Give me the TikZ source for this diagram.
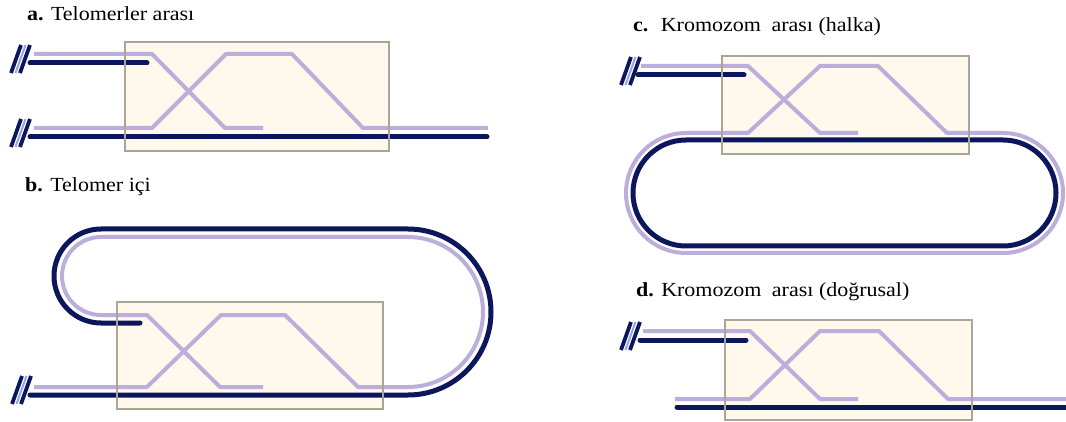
\documentclass[tikz,border=0pt]{standalone}
\usepackage{fontspec}
\setmainfont[FakeStretch=1.1]{Liberation Serif}
\definecolor{navy}{RGB}{12,22,92}
\definecolor{lav}{RGB}{188,174,218}
\definecolor{boxfill}{RGB}{254,249,236}
\definecolor{boxline}{RGB}{170,165,152}
\definecolor{brklight}{RGB}{150,165,230}
\tikzset{
  navyline/.style={draw=navy, line width=5pt, line cap=round, line join=round},
  lavline/.style={draw=lav, line width=4pt, line join=round},
  sitebox/.style={fill=boxfill, draw=none},
  siteframe/.style={draw=boxline, line width=1.2pt},
  lbl/.style={anchor=base west, inner sep=0pt, font=\fontsize{20}{24}\selectfont},
  brk/.pic={
    \draw[brklight, line width=2pt] (4.5,0) -- (14.5,-28);
    \draw[navy, line width=3.8pt] (0,0) -- (10,-28);
    \draw[navy, line width=3.8pt] (9,0) -- (19,-28);
  }
}
\begin{document}
\begin{tikzpicture}[x=1pt,y=-1pt]
\useasboundingbox (0,0) rectangle (1066,422);

% ---------- labels ----------
\node[lbl] (la) at (27,21) {\textbf{a.} Telomerler arası};
\node[lbl] (lb) at (25,192) {\textbf{b.} Telomer içi};
\node[lbl] (lc) at (633,32) {\textbf{c.}\hspace{0.25em} Kromozom\hspace{0.25em} arası (halka)};
\node[lbl] (ld) at (636,297) {\textbf{d.} Kromozom\hspace{0.25em} arası (doğrusal)};

% ---------- panel a ----------
\fill[sitebox] (125,42) rectangle (389,151);
\draw[lavline] (34,54) -- (152,54) -- (225,128) -- (263,128);
\draw[navyline] (30,63) -- (147,63);
\draw[lavline] (34,128) -- (152,128) -- (226,54) -- (292,54) -- (363,128) -- (488,128);
\draw[navyline] (30,137) -- (487,137);
\draw[siteframe] (125,42) rectangle (389,151);
\pic at (11,73) {brk};
\pic at (11,147) {brk};

% ---------- panel b ----------
\fill[sitebox] (117,302) rectangle (383,409);
\draw[lavline] (34,387) -- (147,387) -- (221,315) -- (285,315) -- (358,387) -- (408,387)
   arc[start angle=90, end angle=-90, radius=75] -- (101,237)
   arc[start angle=270, end angle=90, radius=39] -- (147,315) -- (220,387) -- (263,387);
\draw[navyline] (30,395) -- (408,395)
   arc[start angle=90, end angle=-90, radius=83] -- (101,229)
   arc[start angle=270, end angle=90, radius=47] -- (140,323);
\draw[siteframe] (117,302) rectangle (383,409);
\pic at (12,404) {brk};

% ---------- panel c ----------
\fill[sitebox] (722,56) rectangle (969,154);
\draw[lavline] (641,66) -- (748,66) -- (820,133) -- (858,133);
\draw[navyline] (638,75) -- (744,75);
\draw[lavline] (947,133) -- (1003,133)
   arc[start angle=-90, end angle=90, radius=60] -- (686,253)
   arc[start angle=90, end angle=270, radius=60] -- (748,133) -- (820,66) -- (878,66) -- cycle;
\draw[navyline] (686,140) -- (1003,140)
   arc[start angle=-90, end angle=90, radius=53] -- (686,246)
   arc[start angle=90, end angle=270, radius=53] -- cycle;
\draw[siteframe] (722,56) rectangle (969,154);
\pic at (621,85) {brk};

% ---------- panel d ----------
\fill[sitebox] (725,320) rectangle (972,420);
\draw[lavline] (643,331) -- (750,331) -- (820,399) -- (858,399);
\draw[navyline] (640,340) -- (746,340);
\draw[lavline] (675,399) -- (750,399) -- (820,331) -- (879,331) -- (948,399) -- (1066,399);
\draw[navyline] (677,407) -- (1068,407);
\draw[siteframe] (725,320) rectangle (972,420);
\pic at (621,350) {brk};
\end{tikzpicture}
\end{document}
